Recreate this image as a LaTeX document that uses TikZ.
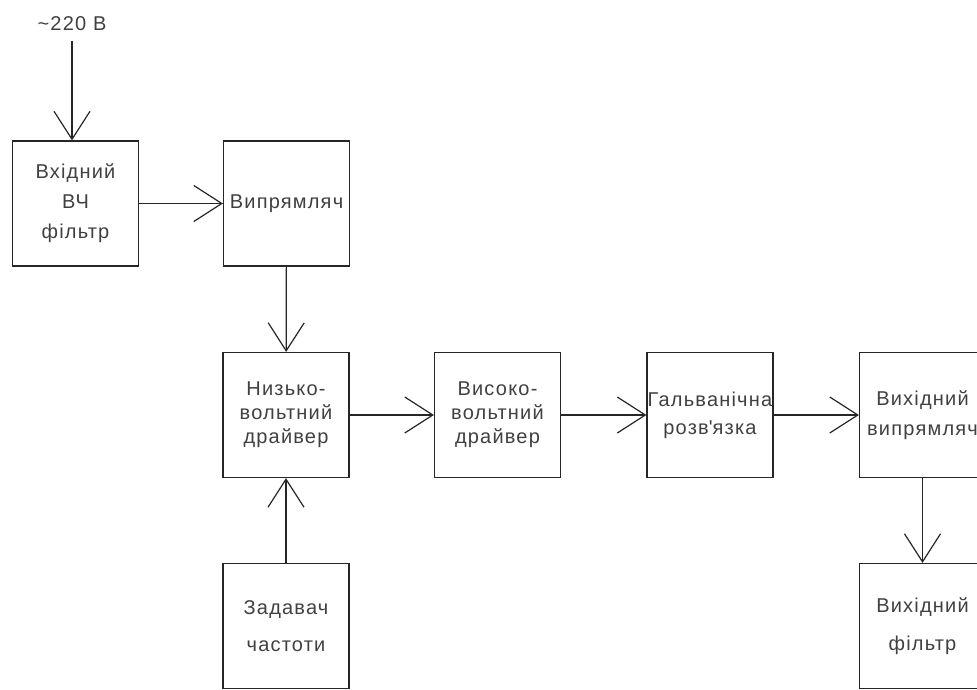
\documentclass[tikz,border=0pt]{standalone}
\usepackage{fontspec}
\setmainfont[LetterSpace=6]{Liberation Sans}
\usetikzlibrary{arrows.meta}

\begin{document}
\begin{tikzpicture}[
      x=1pt, y=-1pt,
      block/.style={draw=black!85, line width=1.2pt, minimum width=126pt, minimum height=125pt,
        inner sep=0pt, align=center, text=black!75, font=\fontsize{20}{24}\selectfont},
      sig/.style={draw=black!85, line width=1.2pt,
        -{Straight Barb[length=28pt,width=36pt,line width=1.2pt]}}
    ]
    \useasboundingbox (0,0) rectangle (977,689);
    \clip (0,0) rectangle (977,689);
    % Draw the blocks.
    \node[block] (vhf) at (75.5,203.5) {Вхідний\\[6pt]ВЧ\\[6pt]фільтр};
    \node[block] (rect) at (286.5,203.5) {Випрямляч};
    \node[block] (lowdrv) at (286,415) {Низько-\\вольтний\\драйвер};
    \node[block] (highdrv) at (497.5,415) {Високо-\\вольтний\\драйвер};
    \node[block] (galv) at (710,415) {Гальванічна\\[4pt]розв\textquotesingle язка};
    \node[block] (outrect) at (922.5,415) {Вихідний\\[6pt]випрямляч};
    \node[block] (freq) at (286,626) {Задавач\\[13pt]частоти};
    \node[block] (outflt) at (922.5,626) {Вихідний\\[14pt]фільтр};
    % Draw the input.
    \node[text=black!75, font=\fontsize{20}{24}\selectfont] (mains) at (72,24) {\textasciitilde220 В};
    % Draw the connections.
    \draw[sig, shorten <=6pt] (mains) -- (mains |- vhf.north);
    \draw[sig] (vhf) -- (rect);
    \draw[sig] (rect) -- (lowdrv);
    \draw[sig] (freq) -- (lowdrv);
    \draw[sig] (lowdrv) -- (highdrv);
    \draw[sig] (highdrv) -- (galv);
    \draw[sig] (galv) -- (outrect);
    \draw[sig] (outrect) -- (outflt);
\end{tikzpicture}
\end{document}
